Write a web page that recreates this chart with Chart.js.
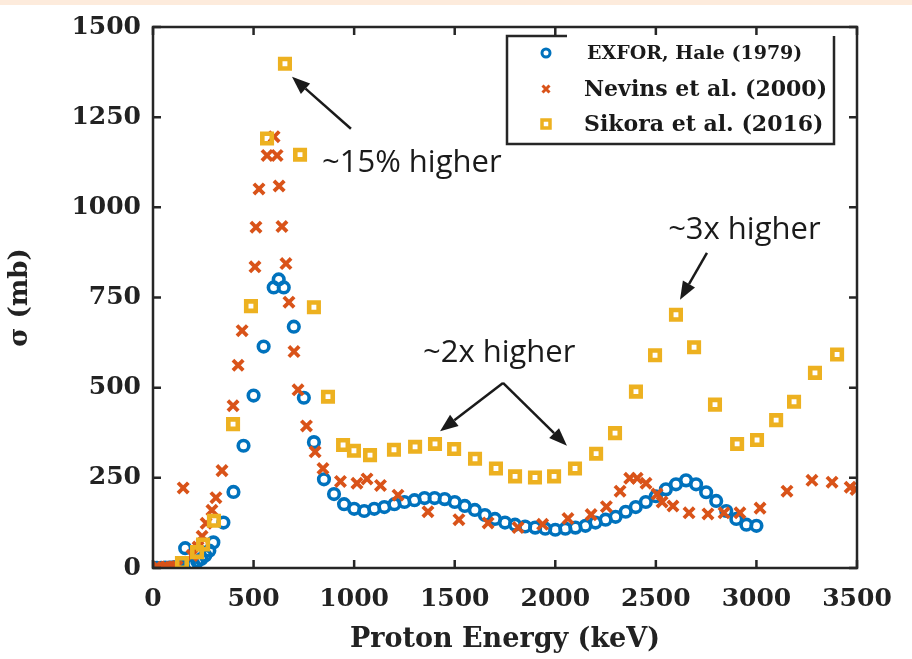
<!DOCTYPE html>
<html>
<head>
<meta charset="utf-8">
<script src="https://cdn.jsdelivr.net/npm/chart.js@4.4.1/dist/chart.umd.min.js"></script>
<style>
html,body{margin:0;padding:0;background:#fff;}
#wrap{width:912px;height:659px;position:relative;}
</style>
</head>
<body>
<div id="wrap"><canvas id="c" width="912" height="659"></canvas></div>
<script>
// ---- Data (keV, mb) ----
const haleE = [10,20,40,60,80,100,120,140,160,180,200,220,240,260,280,300,350,400,450,500,550,600,625,650,700,750,800,850,900,950,1000,1050,1100,1150,1200,1250,1300,1350,1400,1450,1500,1550,1600,1650,1700,1750,1800,1850,1900,1950,2000,2050,2100,2150,2200,2250,2300,2350,2400,2450,2500,2550,2600,2650,2700,2750,2800,2850,2900,2950,3000];
const haleS = [0,0.5,0.5,1,1,2,3,4,55,8,12,18,25,35,48,71,126,211,339,478,614,778,800,778,669,472,349,246,205,177,164,158,164,169,177,183,188,194,194,191,183,172,161,147,136,126,120,115,112,109,106,109,112,117,126,134,142,156,169,183,199,218,232,243,232,210,186,158,136,120,117];

const nevinsE = [25,50,70,100,120,150,194,224,244,264,293,313,343,398,423,443,507,512,527,567,602,617,627,641,661,676,701,721,763,806,845,932,1014,1064,1131,1218,1367,1521,1666,1815,1937,2063,2178,2254,2322,2370,2407,2451,2506,2531,2585,2665,2759,2839,2918,3018,3152,3276,3376,3466,3495];
const nevinsS = [2,2,3,3,4,222,35,58,88,124,160,195,270,450,562,658,835,945,1051,1144,1196,1144,1059,947,844,737,600,494,394,322,276,240,235,247,229,202,156,134,125,112,121,137,148,170,213,249,249,235,205,183,172,153,150,153,153,166,213,243,238,224,218];

const sikoraE = [144,219,249,303,398,487,567,656,731,800,870,945,999,1079,1198,1303,1402,1497,1601,1705,1800,1899,1994,2098,2203,2297,2401,2496,2600,2690,2794,2904,3003,3098,3187,3291,3401];
const sikoraS = [14,44,65,131,399,726,1191,1398,1146,723,475,341,325,313,328,336,344,330,303,276,254,251,254,276,317,374,489,590,702,612,453,344,355,410,461,541,592];

const xTicks = [0,500,1000,1500,2000,2500,3000,3500];
const yTicks = [0,250,500,750,1000,1250,1500];

const seriesNames = ['EXFOR, Hale (1979)','Nevins et al. (2000)','Sikora et al. (2016)'];
const seriesColors = ['#0072BD','#D95319','#EDB120'];

// annotations in data coordinates
const notes = [
  {text:'~15% higher', x:840, y:1122},
  {text:'~2x higher', x:1342, y:595},
  {text:'~3x higher', x:2561, y:936}
];
const arrows = [
  {from:[984,1218], to:[691,1362]},
  {from:[1740,513], to:[1427,379]},
  {from:[1740,513], to:[2058,339]},
  {from:[2754,874], to:[2620,744]}
];

const pts = (xs, ys) => xs.map((v,i)=>({x:v,y:ys[i]}));

const SERIF = '"DejaVu Serif", "Liberation Serif", serif';
const AX = '#262626';

const framePlugin = {
  id:'frame',
  beforeDraw(chart){
    const ctx = chart.ctx;
    ctx.save();
    ctx.fillStyle = '#FDEBDC';
    ctx.fillRect(0,0,chart.width,5);
    ctx.restore();
  },
  afterDatasetsDraw(chart){
    const {ctx, chartArea:a, scales} = chart;
    ctx.save();
    ctx.strokeStyle = AX;
    ctx.lineWidth = 2.5;
    ctx.strokeRect(a.left, a.top, a.right-a.left, a.bottom-a.top);
    const tl = 8;
    xTicks.forEach(v=>{
      const px = scales.x.getPixelForValue(v);
      ctx.beginPath();
      ctx.moveTo(px,a.bottom); ctx.lineTo(px,a.bottom-tl);
      ctx.moveTo(px,a.top); ctx.lineTo(px,a.top+tl);
      ctx.stroke();
    });
    yTicks.forEach(v=>{
      const py = scales.y.getPixelForValue(v);
      ctx.beginPath();
      ctx.moveTo(a.left,py); ctx.lineTo(a.left+tl,py);
      ctx.moveTo(a.right,py); ctx.lineTo(a.right-tl,py);
      ctx.stroke();
    });
    // annotations
    ctx.fillStyle = '#1a1a1a';
    ctx.strokeStyle = '#1a1a1a';
    ctx.font = '31px "Open Sans", "Noto Sans", sans-serif';
    ctx.textBaseline = 'middle';
    ctx.textAlign = 'left';
    notes.forEach(n=>{
      ctx.fillText(n.text, scales.x.getPixelForValue(n.x), scales.y.getPixelForValue(n.y));
    });
    arrows.forEach(ar=>{
      const x1 = scales.x.getPixelForValue(ar.from[0]), y1 = scales.y.getPixelForValue(ar.from[1]);
      const x2 = scales.x.getPixelForValue(ar.to[0]), y2 = scales.y.getPixelForValue(ar.to[1]);
      const ang = Math.atan2(y2-y1, x2-x1);
      const hl = 18, hw = 7;
      const bx = x2 - hl*Math.cos(ang), by = y2 - hl*Math.sin(ang);
      ctx.lineWidth = 2.5;
      ctx.beginPath(); ctx.moveTo(x1,y1); ctx.lineTo(bx,by); ctx.stroke();
      ctx.beginPath();
      ctx.moveTo(x2,y2);
      ctx.lineTo(bx + hw*Math.sin(ang), by - hw*Math.cos(ang));
      ctx.lineTo(bx - hw*Math.sin(ang), by + hw*Math.cos(ang));
      ctx.closePath(); ctx.fill();
    });
    // legend
    const L = 507, T = 36, R = 834, B = 144;
    ctx.strokeStyle = AX; ctx.lineWidth = 2.5;
    ctx.beginPath();
    ctx.moveTo(567,T); ctx.lineTo(L,T); ctx.lineTo(L,B); ctx.lineTo(R,B); ctx.lineTo(R,T);
    ctx.stroke();
    const rows = [53,89,124];
    const sizes = [19,22,22];
    const tx = [587,584,584];
    chart.data.datasets.forEach((ds,i)=>{
      const y = rows[i], x = 546;
      ctx.lineWidth = 3;
      ctx.strokeStyle = ds.borderColor;
      ctx.beginPath();
      if(i===0){ ctx.arc(x,y,4,0,Math.PI*2); ctx.stroke(); }
      else if(i===1){ const o=3.5; ctx.moveTo(x-o,y-o); ctx.lineTo(x+o,y+o); ctx.moveTo(x+o,y-o); ctx.lineTo(x-o,y+o); ctx.stroke(); }
      else { ctx.lineWidth = 3.5; ctx.rect(x-4,y-4,8,8); ctx.stroke(); }
      ctx.fillStyle = '#1a1a1a';
      ctx.font = 'bold '+sizes[i]+'px '+SERIF;
      ctx.textAlign='left'; ctx.textBaseline='middle';
      ctx.fillText(seriesNames[i], tx[i], y+1);
    });
    ctx.restore();
  }
};

new Chart(document.getElementById('c'), {
  type:'scatter',
  data:{datasets:[
    {label:seriesNames[0], data:pts(haleE,haleS), pointStyle:'circle', pointRadius:5.3, borderWidth:3.6, borderColor:seriesColors[0], backgroundColor:'rgba(0,0,0,0)', order:3},
    {label:seriesNames[1], data:pts(nevinsE,nevinsS), pointStyle:'crossRot', pointRadius:7.3, borderWidth:3.8, borderColor:seriesColors[1], backgroundColor:seriesColors[1], order:2},
    {label:seriesNames[2], data:pts(sikoraE,sikoraS), pointStyle:'rect', pointRadius:6.7, borderWidth:4.6, borderColor:seriesColors[2], backgroundColor:'rgba(0,0,0,0)', order:1}
  ]},
  options:{
    responsive:false, animation:false, devicePixelRatio:1,
    layout:{padding:{top:18,right:55,left:0,bottom:0}},
    plugins:{legend:{display:false}, tooltip:{enabled:false}},
    scales:{
      x:{type:'linear', min:0, max:3500,
        afterBuildTicks:s=>{s.ticks = xTicks.map(v=>({value:v}));},
        afterFit:s=>{s.height = 91;},
        grid:{display:false, drawTicks:false}, border:{display:false},
        ticks:{color:'#222', padding:16, maxRotation:0, callback:v=>String(v), font:{family:SERIF, weight:'bold', size:25}},
        title:{display:true, text:'Proton Energy (keV)', color:'#222', font:{family:SERIF, weight:'bold', size:27}, padding:{top:0,bottom:3}}
      },
      y:{type:'linear', min:0, max:1500,
        afterBuildTicks:s=>{s.ticks = yTicks.map(v=>({value:v}));},
        afterFit:s=>{s.width = 153;},
        grid:{display:false, drawTicks:false}, border:{display:false},
        ticks:{color:'#222', padding:12, callback:v=>String(v), font:{family:SERIF, weight:'bold', size:25}},
        title:{display:true, text:'σ (mb)', color:'#222', font:{family:SERIF, weight:'bold', size:26}, padding:{top:5,bottom:0}}
      }
    }
  },
  plugins:[framePlugin]
});
</script>
</body>
</html>
